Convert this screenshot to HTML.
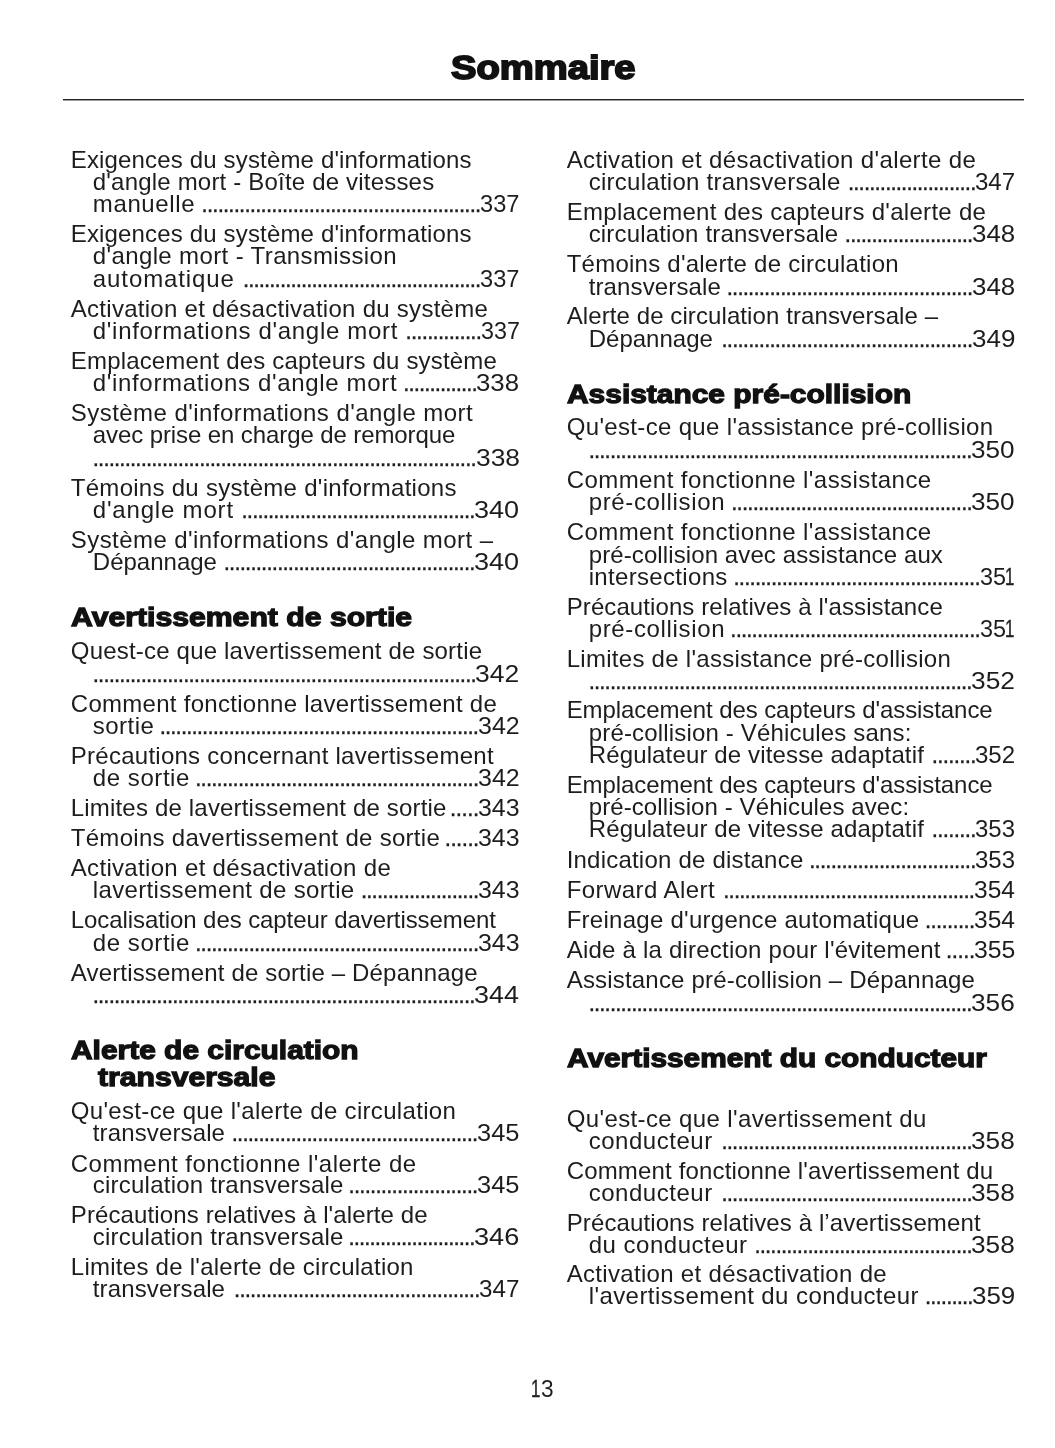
<!DOCTYPE html>
<html lang="fr">
<head>
<meta charset="utf-8">
<title>Sommaire</title>
<style>
html,body{margin:0;padding:0;background:#fff;}
body{width:1055px;height:1448px;position:relative;overflow:hidden;font-family:"Liberation Sans", Arial, sans-serif;color:#1d1d1d;}
.page{position:absolute;left:0;top:0;width:1055px;height:1448px;background:#fff;}
.page span,.page h1,.page h2{position:absolute;margin:0;padding:0;white-space:pre;line-height:1;font-weight:400;transform-origin:0 0;}
.t,.n,.d{font-size:24.0px;}
.d{-webkit-text-stroke:0.25px #1d1d1d;}
.n1{-webkit-text-stroke:0.4px #1d1d1d;}
.page h2{font-size:26.3px;font-weight:700;color:#111;-webkit-text-stroke:1.3px #111;}
.page h1{font-size:34.0px;font-weight:700;color:#111;-webkit-text-stroke:1.8px #111;}
.rule{position:absolute;left:63px;top:99px;width:961px;height:2px;background:linear-gradient(#222 0,#222 50%,#a0a0a0 50%,#a0a0a0 100%);}
</style>
</head>
<body>
<div class="page">
<header>
<h1 style="left:451.11px;top:50.00px;transform:scaleX(1.1227);">Sommaire</h1>
<div class="rule"></div>
</header>
<main>
<section class="col" id="col1">
<div class="e"><span class="t" style="left:70.80px;top:148.00px;letter-spacing:0.157px;">Exigences du système d'informations</span></div>
<div class="e"><span class="t" style="left:92.80px;top:170.00px;letter-spacing:0.192px;">d'angle mort - Boîte de vitesses</span></div>
<div class="e"><span class="t" style="left:92.80px;top:192.00px;letter-spacing:0.623px;">manuelle</span><span class="d" style="left:201.31px;top:192.00px;letter-spacing:-1.305px;">....................................................</span><span class="n" style="left:480.10px;top:192.00px;transform:scaleX(0.9835);">337</span></div>
<div class="e"><span class="t" style="left:70.80px;top:222.00px;letter-spacing:0.157px;">Exigences du système d'informations</span></div>
<div class="e"><span class="t" style="left:92.80px;top:244.00px;letter-spacing:0.374px;">d'angle mort - Transmission</span></div>
<div class="e"><span class="t" style="left:92.80px;top:267.00px;letter-spacing:0.907px;">automatique</span><span class="d" style="left:242.71px;top:267.00px;letter-spacing:-1.392px;">.............................................</span><span class="n" style="left:480.10px;top:267.00px;transform:scaleX(0.9835);">337</span></div>
<div class="e"><span class="t" style="left:70.80px;top:297.00px;letter-spacing:0.275px;">Activation et désactivation du système</span></div>
<div class="e"><span class="t" style="left:92.80px;top:319.00px;letter-spacing:0.690px;">d'informations d'angle mort</span><span class="d" style="left:405.31px;top:319.00px;letter-spacing:-1.271px;">..............</span><span class="n" style="left:480.61px;top:319.00px;transform:scaleX(0.9703);">337</span></div>
<div class="e"><span class="t" style="left:70.80px;top:349.00px;letter-spacing:0.170px;">Emplacement des capteurs du système</span></div>
<div class="e"><span class="t" style="left:92.80px;top:371.00px;letter-spacing:0.659px;">d'informations d'angle mort</span><span class="d" style="left:403.11px;top:371.00px;letter-spacing:-1.417px;">..............</span><span class="n" style="left:476.42px;top:371.00px;transform:scaleX(1.0738);">338</span></div>
<div class="e"><span class="t" style="left:70.80px;top:401.00px;letter-spacing:0.447px;">Système d'informations d'angle mort</span></div>
<div class="e"><span class="t" style="left:92.80px;top:423.00px;letter-spacing:-0.096px;">avec prise en charge de remorque</span></div>
<div class="e"><span class="d" style="left:92.51px;top:446.00px;letter-spacing:-1.348px;">........................................................................</span><span class="n" style="left:475.50px;top:446.00px;transform:scaleX(1.0974);">338</span></div>
<div class="e"><span class="t" style="left:70.80px;top:476.00px;letter-spacing:0.279px;">Témoins du système d'informations</span></div>
<div class="e"><span class="t" style="left:92.80px;top:498.00px;letter-spacing:0.813px;">d'angle mort</span><span class="d" style="left:241.31px;top:498.00px;letter-spacing:-1.372px;">............................................</span><span class="n" style="left:474.17px;top:498.00px;transform:scaleX(1.1284);">340</span></div>
<div class="e"><span class="t" style="left:70.80px;top:528.00px;letter-spacing:0.431px;">Système d'informations d'angle mort –</span></div>
<div class="e"><span class="t" style="left:92.80px;top:550.00px;letter-spacing:0.005px;">Dépannage</span><span class="d" style="left:223.51px;top:550.00px;letter-spacing:-1.330px;">...............................................</span><span class="n" style="left:474.17px;top:550.00px;transform:scaleX(1.1284);">340</span></div>
<h2 style="left:71.09px;top:604.00px;transform:scaleX(1.1477);">Avertissement de sortie</h2>
<div class="e"><span class="t" style="left:70.80px;top:639.00px;letter-spacing:0.196px;">Quest-ce que lavertissement de sortie</span></div>
<div class="e"><span class="d" style="left:92.51px;top:662.00px;letter-spacing:-1.348px;">........................................................................</span><span class="n" style="left:475.49px;top:662.00px;transform:scaleX(1.1022);">342</span></div>
<div class="e"><span class="t" style="left:70.80px;top:692.00px;letter-spacing:0.279px;">Comment fonctionne lavertissement de</span></div>
<div class="e"><span class="t" style="left:92.80px;top:714.00px;letter-spacing:0.456px;">sortie</span><span class="d" style="left:159.41px;top:714.00px;letter-spacing:-1.360px;">............................................................</span><span class="n" style="left:477.85px;top:714.00px;transform:scaleX(1.0415);">342</span></div>
<div class="e"><span class="t" style="left:70.80px;top:744.00px;letter-spacing:0.256px;">Précautions concernant lavertissement</span></div>
<div class="e"><span class="t" style="left:92.80px;top:766.00px;letter-spacing:0.563px;">de sortie</span><span class="d" style="left:195.01px;top:766.00px;letter-spacing:-1.329px;">.....................................................</span><span class="n" style="left:477.85px;top:766.00px;transform:scaleX(1.0415);">342</span></div>
<div class="e"><span class="t" style="left:70.80px;top:796.00px;letter-spacing:0.181px;">Limites de lavertissement de sortie</span><span class="d" style="left:449.81px;top:796.00px;letter-spacing:-0.918px;">.....</span><span class="n" style="left:477.85px;top:796.00px;transform:scaleX(1.0373);">343</span></div>
<div class="e"><span class="t" style="left:70.80px;top:826.00px;letter-spacing:0.284px;">Témoins davertissement de sortie</span><span class="d" style="left:444.51px;top:826.00px;letter-spacing:-1.009px;">......</span><span class="n" style="left:477.85px;top:826.00px;transform:scaleX(1.0373);">343</span></div>
<div class="e"><span class="t" style="left:70.80px;top:856.00px;letter-spacing:0.314px;">Activation et désactivation de</span></div>
<div class="e"><span class="t" style="left:92.80px;top:878.00px;letter-spacing:0.344px;">lavertissement de sortie</span><span class="d" style="left:360.71px;top:878.00px;letter-spacing:-1.333px;">......................</span><span class="n" style="left:477.85px;top:878.00px;transform:scaleX(1.0373);">343</span></div>
<div class="e"><span class="t" style="left:70.80px;top:908.00px;letter-spacing:-0.084px;">Localisation des capteur davertissement</span></div>
<div class="e"><span class="t" style="left:92.80px;top:931.00px;letter-spacing:0.563px;">de sortie</span><span class="d" style="left:195.01px;top:931.00px;letter-spacing:-1.329px;">.....................................................</span><span class="n" style="left:477.85px;top:931.00px;transform:scaleX(1.0373);">343</span></div>
<div class="e"><span class="t" style="left:70.80px;top:961.00px;letter-spacing:0.165px;">Avertissement de sortie – Dépannage</span></div>
<div class="e"><span class="d" style="left:92.51px;top:983.00px;letter-spacing:-1.366px;">........................................................................</span><span class="n" style="left:474.17px;top:983.00px;transform:scaleX(1.1215);">344</span></div>
<h2 style="left:71.09px;top:1037.00px;transform:scaleX(1.1377);">Alerte de circulation</h2>
<h2 class="hi" style="left:98.38px;top:1064.00px;transform:scaleX(1.1453);">transversale</h2>
<div class="e"><span class="t" style="left:70.80px;top:1099.00px;letter-spacing:0.325px;">Qu'est-ce que l'alerte de circulation</span></div>
<div class="e"><span class="t" style="left:92.80px;top:1121.00px;letter-spacing:0.130px;">transversale</span><span class="d" style="left:231.51px;top:1121.00px;letter-spacing:-1.329px;">..............................................</span><span class="n" style="left:476.93px;top:1121.00px;transform:scaleX(1.0597);">345</span></div>
<div class="e"><span class="t" style="left:70.80px;top:1152.00px;letter-spacing:0.477px;">Comment fonctionne l'alerte de</span></div>
<div class="e"><span class="t" style="left:92.80px;top:1173.00px;letter-spacing:0.227px;">circulation transversale</span><span class="d" style="left:348.31px;top:1173.00px;letter-spacing:-1.297px;">........................</span><span class="n" style="left:476.93px;top:1173.00px;transform:scaleX(1.0597);">345</span></div>
<div class="e"><span class="t" style="left:70.80px;top:1203.00px;letter-spacing:0.120px;">Précautions relatives à l'alerte de</span></div>
<div class="e"><span class="t" style="left:92.80px;top:1225.00px;letter-spacing:0.227px;">circulation transversale</span><span class="d" style="left:348.31px;top:1225.00px;letter-spacing:-1.415px;">........................</span><span class="n" style="left:474.17px;top:1225.00px;transform:scaleX(1.1319);">346</span></div>
<div class="e"><span class="t" style="left:70.80px;top:1255.00px;letter-spacing:0.260px;">Limites de l'alerte de circulation</span></div>
<div class="e"><span class="t" style="left:92.80px;top:1277.00px;letter-spacing:0.130px;">transversale</span><span class="d" style="left:233.81px;top:1277.00px;letter-spacing:-1.332px;">..............................................</span><span class="n" style="left:479.18px;top:1277.00px;transform:scaleX(1.0072);">347</span></div>
</section>
<section class="col" id="col2">
<div class="e"><span class="t" style="left:566.70px;top:148.00px;letter-spacing:0.357px;">Activation et désactivation d'alerte de</span></div>
<div class="e"><span class="t" style="left:588.70px;top:170.00px;letter-spacing:0.266px;">circulation transversale</span><span class="d" style="left:847.71px;top:170.00px;letter-spacing:-1.354px;">........................</span><span class="n" style="left:975.08px;top:170.00px;transform:scaleX(1.0020);">347</span></div>
<div class="e"><span class="t" style="left:566.70px;top:200.00px;letter-spacing:0.299px;">Emplacement des capteurs d'alerte de</span></div>
<div class="e"><span class="t" style="left:588.70px;top:222.00px;letter-spacing:0.171px;">circulation transversale</span><span class="d" style="left:844.61px;top:222.00px;letter-spacing:-1.354px;">........................</span><span class="n" style="left:971.91px;top:222.00px;transform:scaleX(1.0790);">348</span></div>
<div class="e"><span class="t" style="left:566.70px;top:252.00px;letter-spacing:0.240px;">Témoins d'alerte de circulation</span></div>
<div class="e"><span class="t" style="left:588.70px;top:275.00px;letter-spacing:0.130px;">transversale</span><span class="d" style="left:726.51px;top:275.00px;letter-spacing:-1.329px;">..............................................</span><span class="n" style="left:971.91px;top:275.00px;transform:scaleX(1.0790);">348</span></div>
<div class="e"><span class="t" style="left:566.70px;top:304.00px;letter-spacing:0.092px;">Alerte de circulation transversale –</span></div>
<div class="e"><span class="t" style="left:588.70px;top:327.00px;letter-spacing:0.005px;">Dépannage</span><span class="d" style="left:721.21px;top:327.00px;letter-spacing:-1.330px;">...............................................</span><span class="n" style="left:971.91px;top:327.00px;transform:scaleX(1.0817);">349</span></div>
<h2 style="left:566.99px;top:381.00px;transform:scaleX(1.1378);">Assistance pré-collision</h2>
<div class="e"><span class="t" style="left:566.70px;top:415.00px;letter-spacing:0.336px;">Qu'est-ce que l'assistance pré-collision</span></div>
<div class="e"><span class="d" style="left:588.41px;top:438.00px;letter-spacing:-1.348px;">........................................................................</span><span class="n" style="left:971.40px;top:438.00px;transform:scaleX(1.0891);">350</span></div>
<div class="e"><span class="t" style="left:566.70px;top:468.00px;letter-spacing:0.435px;">Comment fonctionne l'assistance</span></div>
<div class="e"><span class="t" style="left:588.70px;top:490.00px;letter-spacing:0.650px;">pré-collision</span><span class="d" style="left:731.01px;top:490.00px;letter-spacing:-1.322px;">.............................................</span><span class="n" style="left:971.40px;top:490.00px;transform:scaleX(1.0891);">350</span></div>
<div class="e"><span class="t" style="left:566.70px;top:520.00px;letter-spacing:0.435px;">Comment fonctionne l'assistance</span></div>
<div class="e"><span class="t" style="left:588.70px;top:543.00px;letter-spacing:0.104px;">pré-collision avec assistance aux</span></div>
<div class="e"><span class="t" style="left:588.70px;top:565.00px;letter-spacing:0.328px;">intersections</span><span class="d" style="left:733.21px;top:565.00px;letter-spacing:-1.312px;">..............................................</span><span class="n" style="left:979.51px;top:565.00px;transform:scaleX(0.9745);">35</span><span class="n n1" style="left:1005.47px;top:565.00px;transform:scaleX(0.7000);">1</span></div>
<div class="e"><span class="t" style="left:566.70px;top:595.00px;letter-spacing:0.094px;">Précautions relatives à l'assistance</span></div>
<div class="e"><span class="t" style="left:588.70px;top:617.00px;letter-spacing:0.650px;">pré-collision</span><span class="d" style="left:730.11px;top:617.00px;letter-spacing:-1.361px;">...............................................</span><span class="n" style="left:979.51px;top:617.00px;transform:scaleX(0.9745);">35</span><span class="n n1" style="left:1005.47px;top:617.00px;transform:scaleX(0.7000);">1</span></div>
<div class="e"><span class="t" style="left:566.70px;top:647.00px;letter-spacing:0.280px;">Limites de l'assistance pré-collision</span></div>
<div class="e"><span class="d" style="left:588.41px;top:669.00px;letter-spacing:-1.348px;">........................................................................</span><span class="n" style="left:971.40px;top:669.00px;transform:scaleX(1.0969);">352</span></div>
<div class="e"><span class="t" style="left:566.70px;top:698.00px;letter-spacing:-0.079px;">Emplacement des capteurs d'assistance</span></div>
<div class="e"><span class="t" style="left:588.70px;top:721.00px;letter-spacing:0.174px;">pré-collision - Véhicules sans:</span></div>
<div class="e"><span class="t" style="left:588.70px;top:743.00px;letter-spacing:0.142px;">Régulateur de vitesse adaptatif</span><span class="d" style="left:931.51px;top:743.00px;letter-spacing:-1.170px;">........</span><span class="n" style="left:975.08px;top:743.00px;transform:scaleX(1.0020);">352</span></div>
<div class="e"><span class="t" style="left:566.70px;top:773.00px;letter-spacing:-0.079px;">Emplacement des capteurs d'assistance</span></div>
<div class="e"><span class="t" style="left:588.70px;top:795.00px;letter-spacing:0.097px;">pré-collision - Véhicules avec:</span></div>
<div class="e"><span class="t" style="left:588.70px;top:817.00px;letter-spacing:0.142px;">Régulateur de vitesse adaptatif</span><span class="d" style="left:931.51px;top:817.00px;letter-spacing:-1.170px;">........</span><span class="n" style="left:975.09px;top:817.00px;transform:scaleX(0.9979);">353</span></div>
<div class="e"><span class="t" style="left:566.70px;top:848.00px;letter-spacing:0.209px;">Indication de distance</span><span class="d" style="left:809.01px;top:848.00px;letter-spacing:-1.305px;">...............................</span><span class="n" style="left:975.09px;top:848.00px;transform:scaleX(0.9979);">353</span></div>
<div class="e"><span class="t" style="left:566.70px;top:878.00px;letter-spacing:0.438px;">Forward Alert</span><span class="d" style="left:723.01px;top:878.00px;letter-spacing:-1.330px;">...............................................</span><span class="n" style="left:973.77px;top:878.00px;transform:scaleX(1.0226);">354</span></div>
<div class="e"><span class="t" style="left:566.70px;top:908.00px;letter-spacing:0.264px;">Freinage d'urgence automatique</span><span class="d" style="left:924.81px;top:908.00px;letter-spacing:-1.183px;">.........</span><span class="n" style="left:973.77px;top:908.00px;transform:scaleX(1.0226);">354</span></div>
<div class="e"><span class="t" style="left:566.70px;top:938.00px;letter-spacing:0.221px;">Aide à la direction pour l'évitement</span><span class="d" style="left:945.71px;top:938.00px;letter-spacing:-0.918px;">.....</span><span class="n" style="left:973.76px;top:938.00px;transform:scaleX(1.0308);">355</span></div>
<div class="e"><span class="t" style="left:566.70px;top:968.00px;letter-spacing:0.188px;">Assistance pré-collision – Dépannage</span></div>
<div class="e"><span class="d" style="left:588.41px;top:991.00px;letter-spacing:-1.348px;">........................................................................</span><span class="n" style="left:971.40px;top:991.00px;transform:scaleX(1.0925);">356</span></div>
<h2 style="left:566.99px;top:1045.00px;transform:scaleX(1.1341);">Avertissement du conducteur</h2>
<div class="e"><span class="t" style="left:566.70px;top:1107.00px;letter-spacing:0.377px;">Qu'est-ce que l'avertissement du</span></div>
<div class="e"><span class="t" style="left:588.70px;top:1129.00px;letter-spacing:0.528px;">conducteur</span><span class="d" style="left:721.21px;top:1129.00px;letter-spacing:-1.341px;">...............................................</span><span class="n" style="left:971.40px;top:1129.00px;transform:scaleX(1.0922);">358</span></div>
<div class="e"><span class="t" style="left:566.70px;top:1159.00px;letter-spacing:0.158px;">Comment fonctionne l'avertissement du</span></div>
<div class="e"><span class="t" style="left:588.70px;top:1181.00px;letter-spacing:0.528px;">conducteur</span><span class="d" style="left:721.21px;top:1181.00px;letter-spacing:-1.341px;">...............................................</span><span class="n" style="left:971.40px;top:1181.00px;transform:scaleX(1.0922);">358</span></div>
<div class="e"><span class="t" style="left:566.70px;top:1211.00px;letter-spacing:0.115px;">Précautions relatives à l’avertissement</span></div>
<div class="e"><span class="t" style="left:588.70px;top:1233.00px;letter-spacing:0.516px;">du conducteur</span><span class="d" style="left:754.21px;top:1233.00px;letter-spacing:-1.367px;">.........................................</span><span class="n" style="left:971.40px;top:1233.00px;transform:scaleX(1.0922);">358</span></div>
<div class="e"><span class="t" style="left:566.70px;top:1262.00px;letter-spacing:0.314px;">Activation et désactivation de</span></div>
<div class="e"><span class="t" style="left:588.70px;top:1284.00px;letter-spacing:0.418px;">l'avertissement du conducteur</span><span class="d" style="left:924.81px;top:1284.00px;letter-spacing:-1.395px;">.........</span><span class="n" style="left:972.01px;top:1284.00px;transform:scaleX(1.0791);">359</span></div>
</section>
</main>
<footer><span class="n n1" style="left:531.42px;top:1377.00px;transform:scaleX(0.7000);">1</span><span class="n" style="left:541.09px;top:1377.00px;transform:scaleX(0.9436);">3</span></footer>
</div>
</body>
</html>
